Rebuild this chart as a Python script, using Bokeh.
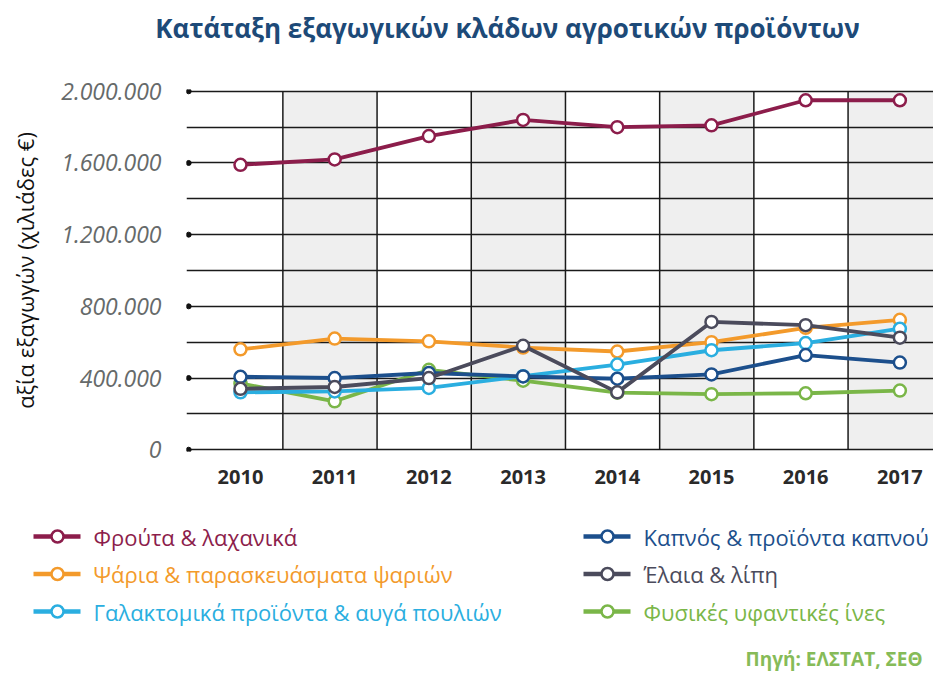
from bokeh.plotting import figure
from bokeh.layouts import column
from bokeh.models import Range1d, FixedTicker
from bokeh.core.properties import value
from bokeh.embed import file_html
from bokeh.resources import INLINE

# ---------------- data ----------------
title_text = "Κατάταξη εξαγωγικών κλάδων αγροτικών προϊόντων"
y_axis_title = "αξία εξαγωγών (χιλιάδες €)"
source_text = "Πηγή: ΕΛΣΤΑΤ, ΣΕΘ"

years = ["2010", "2011", "2012", "2013", "2014", "2015", "2016", "2017"]

fruits = [1590000, 1620000, 1750000, 1840000, 1800000, 1810000, 1950000, 1950000]
fish = [560000, 620000, 605000, 570000, 548000, 600000, 680000, 725000]
dairy = [320000, 325000, 345000, 410000, 475000, 555000, 595000, 675000]
tobacco = [407000, 400000, 428000, 409000, 396000, 420000, 528000, 486000]
oils = [340000, 350000, 400000, 580000, 320000, 713000, 695000, 625000]
fibers = [370000, 270000, 446000, 385000, 318000, 310000, 315000, 330000]

series_names = [
    "Φρούτα & λαχανικά",
    "Ψάρια & παρασκευάσματα ψαριών",
    "Γαλακτομικά προϊόντα & αυγά πουλιών",
    "Καπνός & προϊόντα καπνού",
    "Έλαια & λίπη",
    "Φυσικές υφαντικές ίνες",
]
series_values = [fruits, fish, dairy, tobacco, oils, fibers]
series_colors = ["#8c1d4b", "#f39a2b", "#2aaee0", "#1c4f8c", "#4b4b5c", "#7ab648"]
draw_order = [0, 5, 1, 2, 3, 4]

y_major = [0, 400000, 800000, 1200000, 1600000, 2000000]
y_minor = [200000, 600000, 1000000, 1400000, 1800000]
y_labels = ["0", "400.000", "800.000", "1.200.000", "1.600.000", "2.000.000"]

# ---------------- layout constants (picture pixels) ----------------
W = 933
TITLE_H, MAIN_H, LEG_H = 62, 438, 176
FRAME_L, FRAME_T, FRAME_H = 186, 89, 362
FRAME_B = FRAME_T + FRAME_H
XPX = 94.2                   # pixels per year column
X0 = -0.573
Y0, Y1 = -10000, 2010000
GRID = "#1a1a1a"
FONT = "Open Sans"

common = dict(output_backend="svg", toolbar_location=None)

# ---------------- title ----------------
tf = figure(width=W, height=TITLE_H, x_range=Range1d(0, W), y_range=Range1d(TITLE_H, 0),
            min_border=0, x_axis_type=None, y_axis_type=None, **common)
tf.frame_align = False
tf.outline_line_color = None
tf.text(x=[507], y=[27], text=[title_text], text_font=value(FONT),
        text_font_style="bold", text_font_size="26px", text_color="#1d4a78",
        text_align="center", text_baseline="middle")

# ---------------- main chart ----------------
p = figure(width=W, height=MAIN_H, x_range=Range1d(X0, X0 + (W - FRAME_L) / XPX),
           y_range=Range1d(Y0, Y1),
           min_border_left=FRAME_L, min_border_right=0,
           min_border_top=FRAME_T - TITLE_H,
           min_border_bottom=MAIN_H - (FRAME_B - TITLE_H), **common)
p.frame_align = False
p.outline_line_color = None

idx = list(range(len(years)))
ymax = y_major[-1]

# alternating shaded columns
band_idx = [i for i in idx if i % 2 == 1]
bands = p.quad(left=[i - 0.55 for i in band_idx], right=[i + 0.45 for i in band_idx],
               bottom=0, top=ymax, fill_color="#efefef", line_color=None)
bands.level = "image"

# vertical separators between years
sep = [i + 0.45 for i in idx[:-1]]
p.segment(x0=sep, y0=0, x1=sep, y1=ymax, line_color=GRID, line_width=1.5)

# horizontal grid
p.xgrid.grid_line_color = None
p.ygrid.ticker = FixedTicker(ticks=y_major + y_minor)
p.ygrid.grid_line_color = GRID
p.ygrid.grid_line_width = 1.5

# tick dots at the left
p.scatter(x=[-0.55] * len(y_major), y=y_major, size=5, color="#111111")

for k in draw_order:
    c = series_colors[k]
    p.line(idx, series_values[k], line_color=c, line_width=3.8)
    p.scatter(idx, series_values[k], size=12, fill_color="white", line_color=c, line_width=2.5)

p.xaxis.ticker = FixedTicker(ticks=idx)
p.xaxis.major_label_overrides = {i: y for i, y in zip(idx, years)}
p.xaxis.axis_line_color = None
p.xaxis.major_tick_line_color = None
p.xaxis.minor_tick_line_color = None
p.xaxis.major_label_text_font = FONT
p.xaxis.major_label_text_font_style = "bold"
p.xaxis.major_label_text_font_size = "20px"
p.xaxis.major_label_text_color = "#2a2a2a"
p.xaxis.major_label_standoff = 12

p.yaxis.ticker = FixedTicker(ticks=y_major)
p.yaxis.major_label_overrides = {v: s for v, s in zip(y_major, y_labels)}
p.yaxis.axis_line_color = None
p.yaxis.major_tick_line_color = None
p.yaxis.minor_tick_line_color = None
p.yaxis.major_label_text_font = FONT
p.yaxis.major_label_text_font_style = "italic"
p.yaxis.major_label_text_font_size = "23px"
p.yaxis.major_label_text_color = "#666a6a"
p.yaxis.major_label_standoff = 19
p.yaxis.axis_label = y_axis_title
p.yaxis.axis_label_text_font = FONT
p.yaxis.axis_label_text_font_style = "normal"
p.yaxis.axis_label_text_font_size = "22px"
p.yaxis.axis_label_text_color = "#111111"
p.yaxis.axis_label_standoff = 18

# ---------------- legend + source ----------------
top = MAIN_H + TITLE_H
lg = figure(width=W, height=LEG_H, x_range=Range1d(0, W), y_range=Range1d(top + LEG_H, top),
            min_border=0, x_axis_type=None, y_axis_type=None, **common)
lg.frame_align = False
lg.outline_line_color = None

col_x = [33, 583]
row_y0, row_dy = 536, 37.5
mx0, mx1, cx, tx, my = [], [], [], [], []
for i in range(len(series_names)):
    c0 = col_x[i // 3]
    mx0.append(c0)
    mx1.append(c0 + 47)
    cx.append(c0 + 24)
    tx.append(c0 + 60)
    my.append(row_y0 + (i % 3) * row_dy)

lg.segment(x0=mx0, y0=my, x1=mx1, y1=my, line_color=series_colors, line_width=4.5)
lg.scatter(cx, my, size=12, fill_color="white", line_color=series_colors, line_width=2.5)
lg.text(x=tx, y=my, text=series_names, text_font=value(FONT), text_font_size="22px",
        text_color=series_colors, text_align="left", text_baseline="middle")
lg.text(x=[745], y=[658], text=[source_text], text_font=value(FONT), text_font_style="bold",
        text_font_size="19px", text_color="#86bb58", text_align="left", text_baseline="middle")

layout = column(tf, p, lg)
open("out.html", "w").write(file_html(layout, INLINE))
